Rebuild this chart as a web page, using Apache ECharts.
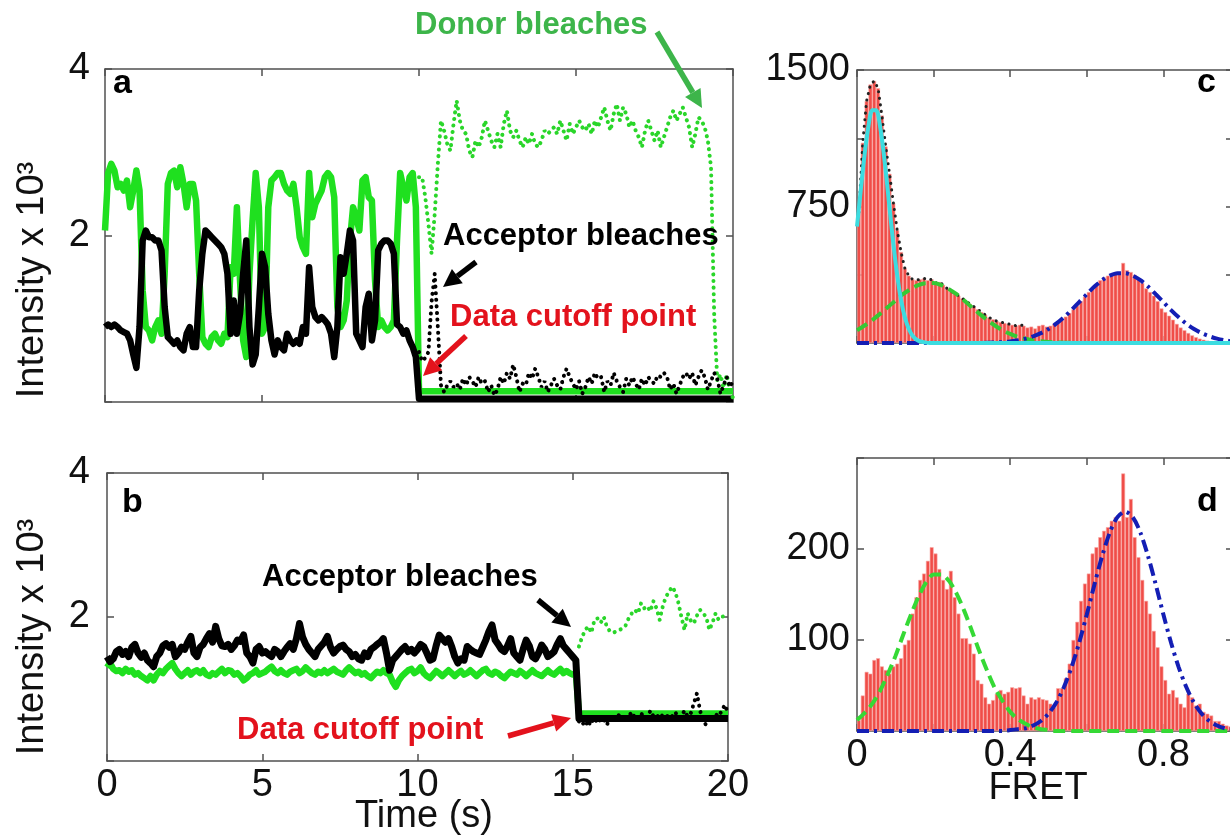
<!DOCTYPE html>
<html>
<head>
<meta charset="utf-8">
<script src="https://cdn.jsdelivr.net/npm/echarts@6/dist/echarts.min.js"></script>
<style>
  html, body { margin: 0; padding: 0; background: #fff; overflow: hidden; }
  #chart { width: 1260px; height: 838px; }
</style>
</head>
<body>
<div id="chart"></div>
<script>
const FONT = '"Liberation Sans", Arial, Helvetica, sans-serif';
const GREEN = '#1fe01f';
const BLACK = '#000000';
const T_STEP = 0.1;
const BIN_W = 0.01;
const FIT_STEP = 0.02;
const CYAN_STEP = 0.01;

// ---- panel a: time trace (intensity x 10^3), 0.1 s per point ----
const aStart = 0;
const aCutoff = 10;
const aDonor = [
  2.06, 2.75, 2.86, 2.78, 2.58, 2.62, 2.54, 2.66, 2.34, 2.54,
  2.78, 2.54, 1.34, 0.90, 0.86, 0.74, 0.90, 0.98, 0.82, 1.54,
  2.62, 2.75, 2.78, 2.58, 2.82, 2.62, 2.34, 2.62, 2.62, 2.42,
  1.54, 0.78, 0.70, 0.66, 0.78, 0.82, 0.74, 0.70, 0.82, 0.78,
  1.62, 1.54, 2.34, 1.46, 0.74, 0.54, 1.54, 2.18, 2.75, 2.34,
  0.82, 0.90, 2.34, 2.66, 2.70, 2.75, 2.75, 2.62, 2.54, 2.50,
  2.62, 2.34, 1.98, 1.86, 1.78, 2.75, 2.22, 2.38, 2.46, 2.54,
  2.70, 2.75, 2.70, 2.46, 1.14, 0.90, 0.98, 1.22, 1.94, 2.34,
  2.22, 2.06, 2.66, 2.70, 2.46, 2.42, 1.46, 0.90, 0.98, 0.90,
  0.86, 0.90, 0.98, 1.94, 2.75, 2.58, 2.42, 2.70, 2.75, 2.34
];
const aAcceptor = [
  0.90, 0.93, 0.90, 0.93, 0.90, 0.86, 0.84, 0.82, 0.74, 0.57,
  0.41, 0.90, 1.94, 2.06, 1.98, 1.98, 1.94, 1.94, 1.82, 1.14,
  0.78, 0.74, 0.70, 0.74, 0.66, 0.62, 0.82, 0.90, 0.66, 0.66,
  1.34, 1.78, 2.06, 2.02, 1.98, 1.94, 1.90, 1.86, 1.78, 1.54,
  0.82, 1.22, 0.82, 1.06, 1.54, 1.94, 0.90, 0.45, 0.57, 1.14,
  1.78, 1.62, 1.06, 0.74, 0.57, 0.74, 0.66, 0.62, 0.82, 0.74,
  0.70, 0.74, 0.70, 0.90, 0.82, 1.62, 1.14, 1.02, 0.98, 1.02,
  0.98, 0.93, 0.82, 0.54, 0.90, 1.74, 1.54, 1.78, 2.06, 1.94,
  0.82, 0.74, 0.66, 1.14, 1.30, 0.74, 0.98, 1.82, 1.90, 1.94,
  1.94, 1.90, 1.78, 0.93, 0.90, 0.82, 0.86, 0.74, 0.66, 0.54
];
const aDonorCut = 0.13;
const aAcceptorCut = 0.04;
// raw traces after the cutoff point (10 s .. 20 s)
const aDonorAfter = [
  2.70, 2.70, 2.46, 2.14, 1.78, 2.26, 2.86, 3.38, 3.26, 3.10,
  3.02, 3.34, 3.62, 3.38, 3.26, 3.22, 3.02, 2.94, 3.14, 3.06,
  3.18, 3.38, 3.26, 3.14, 3.06, 3.22, 3.06, 3.34, 3.50, 3.26,
  3.18, 3.26, 3.14, 3.06, 3.18, 3.10, 3.22, 3.10, 3.06, 3.14,
  3.26, 3.22, 3.26, 3.30, 3.22, 3.38, 3.26, 3.14, 3.34, 3.22,
  3.30, 3.38, 3.30, 3.26, 3.34, 3.22, 3.38, 3.30, 3.42, 3.54,
  3.38, 3.26, 3.46, 3.58, 3.38, 3.54, 3.46, 3.30, 3.38, 3.26,
  3.18, 3.06, 3.26, 3.38, 3.26, 3.14, 3.26, 3.06, 3.18, 3.30,
  3.42, 3.50, 3.38, 3.46, 3.54, 3.42, 3.30, 3.06, 3.22, 3.42,
  3.38, 3.30, 3.14, 2.82, 1.06, 0.25, 0.33, 0.17, 0.33, 0.13,
  0.05
];
const aAcceptorAfter = [
  0.60, 0.49, 0.53, 0.60, 1.20, 1.54, 0.90, 0.20, 0.12, 0.20,
  0.25, 0.18, 0.22, 0.15, 0.28, 0.20, 0.30, 0.25, 0.18, 0.30,
  0.22, 0.25, 0.12, 0.20, 0.08, 0.15, 0.30, 0.22, 0.35, 0.28,
  0.45, 0.30, 0.12, 0.22, 0.20, 0.35, 0.28, 0.40, 0.30, 0.18,
  0.25, 0.12, 0.20, 0.28, 0.20, 0.15, 0.30, 0.40, 0.30, 0.22,
  0.15, 0.25, 0.10, 0.18, 0.30, 0.22, 0.35, 0.28, 0.30, 0.12,
  0.25, 0.20, 0.35, 0.25, 0.18, 0.12, 0.28, 0.20, 0.30, 0.22,
  0.15, 0.28, 0.20, 0.30, 0.25, 0.22, 0.32, 0.30, 0.35, 0.30,
  0.15, 0.22, 0.10, 0.20, 0.30, 0.35, 0.28, 0.35, 0.20, 0.30,
  0.38, 0.30, 0.15, 0.25, 0.35, 0.28, 0.10, 0.20, 0.30, 0.18,
  0.25
];

// ---- panel b ----
const bStart = 0;
const bCutoff = 15.2;
const bDonor = [
  1.30, 1.36, 1.28, 1.25, 1.26, 1.22, 1.28, 1.24, 1.26, 1.20,
  1.22, 1.18, 1.15, 1.12, 1.18, 1.12, 1.20, 1.25, 1.22, 1.28,
  1.32, 1.36, 1.28, 1.22, 1.18, 1.22, 1.26, 1.20, 1.24, 1.26,
  1.22, 1.26, 1.20, 1.18, 1.22, 1.20, 1.24, 1.28, 1.22, 1.26,
  1.25, 1.20, 1.22, 1.18, 1.12, 1.15, 1.20, 1.22, 1.26, 1.20,
  1.22, 1.24, 1.28, 1.31, 1.25, 1.22, 1.26, 1.22, 1.20, 1.24,
  1.26, 1.28, 1.22, 1.25, 1.30, 1.26, 1.22, 1.20, 1.24, 1.22,
  1.26, 1.22, 1.25, 1.28, 1.24, 1.22, 1.20, 1.26, 1.30, 1.26,
  1.22, 1.24, 1.20, 1.22, 1.18, 1.15, 1.20, 1.24, 1.22, 1.26,
  1.22, 1.20, 1.10, 1.03, 1.12, 1.18, 1.22, 1.26, 1.28, 1.22,
  1.25, 1.30, 1.22, 1.18, 1.15, 1.20, 1.25, 1.22, 1.18, 1.22,
  1.26, 1.22, 1.18, 1.22, 1.25, 1.20, 1.22, 1.26, 1.22, 1.18,
  1.22, 1.26, 1.28, 1.22, 1.20, 1.24, 1.22, 1.18, 1.15, 1.20,
  1.24, 1.22, 1.20, 1.25, 1.22, 1.18, 1.22, 1.26, 1.22, 1.20,
  1.18, 1.22, 1.26, 1.22, 1.20, 1.24, 1.28, 1.22, 1.25, 1.22,
  1.20, 1.22
];
const bAcceptor = [
  1.45, 1.38, 1.42, 1.52, 1.55, 1.48, 1.52, 1.45, 1.58, 1.62,
  1.50, 1.44, 1.50, 1.40, 1.36, 1.31, 1.45, 1.50, 1.60, 1.63,
  1.58, 1.62, 1.45, 1.50, 1.58, 1.55, 1.65, 1.73, 1.50, 1.45,
  1.58, 1.62, 1.70, 1.77, 1.65, 1.87, 1.70, 1.60, 1.59, 1.62,
  1.55, 1.60, 1.68, 1.66, 1.75, 1.50, 1.45, 1.36, 1.55, 1.59,
  1.50, 1.52, 1.48, 1.45, 1.55, 1.52, 1.45, 1.52, 1.58, 1.63,
  1.55, 1.70, 1.91, 1.72, 1.62, 1.55, 1.50, 1.45, 1.55, 1.60,
  1.65, 1.73, 1.58, 1.50, 1.55, 1.59, 1.61, 1.55, 1.52, 1.45,
  1.48, 1.42, 1.40, 1.50, 1.45, 1.55, 1.58, 1.62, 1.65, 1.70,
  1.50, 1.26, 1.40, 1.45, 1.50, 1.55, 1.59, 1.52, 1.55, 1.50,
  1.55, 1.62, 1.59, 1.50, 1.40, 1.42, 1.60, 1.75, 1.70, 1.65,
  1.70, 1.59, 1.45, 1.36, 1.42, 1.40, 1.59, 1.55, 1.52, 1.50,
  1.48, 1.58, 1.68, 1.80, 1.89, 1.68, 1.62, 1.55, 1.52, 1.60,
  1.70, 1.50, 1.45, 1.40, 1.55, 1.68, 1.60, 1.45, 1.42, 1.50,
  1.61, 1.55, 1.45, 1.48, 1.52, 1.62, 1.70, 1.60, 1.55, 1.50,
  1.45, 1.40
];
const bDonorCut = 0.66;
const bAcceptorCut = 0.59;
const bDonorAfter = [
  1.59, 1.72, 1.82, 1.87, 1.78, 1.96, 1.98, 1.92, 2.00, 1.86,
  1.80, 1.78, 1.80, 1.82, 1.84, 1.88, 1.98, 2.05, 2.10, 2.05,
  2.19, 2.12, 2.15, 2.08, 2.22, 2.12, 1.96, 2.15, 2.28, 2.35,
  2.42, 2.35, 2.20, 2.00, 1.82, 2.05, 1.95, 1.91, 2.02, 2.10,
  2.05, 2.00, 1.82, 1.92, 2.05, 1.96, 2.00, 2.02, 2.00
];
const bAcceptorAfter = [
  0.55, 0.50, 0.56, 0.48, 0.58, 0.52, 0.60, 0.55, 0.58, 0.50,
  0.60, 0.62, 0.57, 0.65, 0.60, 0.55, 0.62, 0.68, 0.60, 0.58,
  0.66, 0.62, 0.60, 0.70, 0.62, 0.60, 0.66, 0.62, 0.60, 0.65,
  0.62, 0.68, 0.60, 0.62, 0.70, 0.62, 0.66, 0.80, 0.94, 0.70,
  0.55, 0.50, 0.62, 0.60, 0.65, 0.62, 0.70, 0.78, 0.66
];

// ---- panel c: FRET histogram (bins of 0.01) and fits ----
const cHist = [
  720, 1100, 1330, 1420, 1440, 1400, 1250, 1080, 930, 770,
  620, 500, 410, 370, 350, 345, 350, 355, 345, 350,
  330, 335, 320, 300, 285, 275, 260, 245, 230, 215,
  200, 185, 170, 155, 140, 130, 120, 115, 110, 105,
  100, 95, 100, 95, 85, 90, 80, 95, 100, 90,
  95, 105, 115, 130, 145, 165, 185, 205, 230, 255,
  280, 300, 325, 345, 360, 370, 380, 385, 390, 440,
  400, 390, 375, 355, 330, 300, 280, 260, 230, 190,
  170, 150, 128, 105, 85, 70, 55, 42, 32, 24,
  18, 13, 10, 7, 5, 4, 3, 2, 2, 1
];
const cCyanFit = [640, 844, 1039, 1193, 1279, 1279, 1193, 1039, 844, 640,
  453, 299, 184, 106, 57, 28, 13, 6, 2, 0, 0];
const cGreenFit = [70, 96, 126, 160, 196, 233, 268, 296, 318, 329,
  329, 318, 296, 268, 233, 196, 160, 126, 96, 70,
  50, 34, 23, 14, 9, 5, 3, 2, 1, 0,
  0, 0, 0, 0, 0, 0, 0, 0, 0, 0,
  0, 0, 0, 0, 0, 0, 0, 0, 0, 0, 0];
const cBlueFit = [0, 0, 0, 0, 0, 0, 0, 0, 0, 0,
  0, 0, 0, 0, 0, 0, 0, 1, 3, 5,
  9, 15, 24, 37, 54, 77, 106, 141, 181, 225,
  268, 310, 345, 370, 383, 383, 370, 345, 310, 268,
  225, 181, 141, 106, 77, 54, 37, 24, 15, 9, 5];

// ---- panel d ----
const dHist = [
  12, 39, 65, 63, 78, 80, 71, 67, 63, 71,
  74, 80, 95, 100, 129, 147, 166, 173, 187, 202,
  195, 178, 166, 156, 176, 147, 129, 102, 102, 96,
  85, 56, 52, 37, 30, 34, 41, 45, 41, 43,
  48, 47, 48, 39, 30, 37, 35, 37, 35, 34,
  30, 26, 47, 47, 58, 74, 100, 120, 143, 162,
  173, 195, 202, 213, 220, 224, 231, 235, 231, 283,
  235, 255, 213, 191, 166, 143, 129, 110, 92, 71,
  56, 41, 45, 37, 30, 26, 41, 37, 28, 30,
  21, 19, 17, 11, 11, 8, 6, 5, 4, 3
];
const dGreenFit = [12, 20, 30, 44, 62, 82, 105, 127, 147, 163,
  172, 172, 165, 151, 132, 110, 87, 66, 47, 33,
  21, 13, 8, 4, 2, 1, 0, 0, 0, 0,
  0, 0, 0, 0, 0, 0, 0, 0, 0, 0,
  0, 0, 0, 0, 0, 0, 0, 0, 0, 0, 0];
const dBlueFit = [0, 0, 0, 0, 0, 0, 0, 0, 0, 0,
  0, 0, 0, 0, 0, 0, 0, 0, 0, 0,
  1, 2, 3, 6, 11, 19, 31, 48, 70, 97,
  128, 161, 192, 218, 235, 241, 235, 218, 192, 161,
  128, 97, 70, 48, 31, 19, 11, 6, 3, 2, 1];

// ---------------------------------------------------------------
function timePairs(start, vals) {
  return vals.map((v, i) => [+(start + i * T_STEP).toFixed(2), v]);
}
function binPairs(vals) {
  return vals.map((v, i) => [+(BIN_W * (i + 0.5)).toFixed(3), v]);
}
function fitPairs(step, vals) {
  return vals.map((v, i) => [+(i * step).toFixed(3), v]);
}

const AX = '#505050';
const tickStyle = (len) => ({ show: true, inside: true, length: len, lineStyle: { color: AX, width: 1.5 } });
const lineAx = { show: true, onZero: false, lineStyle: { color: AX, width: 1.5 } };
const lbl = (fmt, margin) => fmt
  ? { show: true, formatter: fmt, fontFamily: FONT, fontSize: 38, color: '#111', margin: margin, showMinLabel: true, showMaxLabel: true }
  : { show: false };

function xPair(grid, min, max, interval, fmt, margin) {
  return [
    { type: 'value', gridIndex: grid, min, max, interval, position: 'bottom', axisLine: lineAx, axisTick: tickStyle(7), splitLine: { show: false }, axisLabel: lbl(fmt, margin) },
    { type: 'value', gridIndex: grid, min, max, interval, position: 'top', axisLine: lineAx, axisTick: tickStyle(7), splitLine: { show: false }, axisLabel: { show: false } }
  ];
}
function yPair(grid, min, max, interval, fmt, margin, rightTick) {
  return [
    { type: 'value', gridIndex: grid, min, max, interval, position: 'left', axisLine: lineAx, axisTick: tickStyle(7), splitLine: { show: false }, axisLabel: lbl(fmt, margin) },
    { type: 'value', gridIndex: grid, min, max, interval, position: 'right', axisLine: lineAx, axisTick: tickStyle(rightTick), splitLine: { show: false }, axisLabel: { show: false } }
  ];
}
const only = (list) => (v) => list.some(s => Math.abs(s - v) < 1e-6) ? String(v) : '';

// axis index 0/2/4/6 = bottom & left axes of grids a/b/c/d
function trace(xi, data, color, width, z) {
  return { type: 'line', xAxisIndex: xi, yAxisIndex: xi, data, showSymbol: false, silent: true,
    lineStyle: { color, width, join: 'round' }, z };
}
function dotted(xi, data, color, width, z) {
  return { type: 'line', xAxisIndex: xi, yAxisIndex: xi, data, showSymbol: false, silent: true,
    lineStyle: { color, width, type: [0.1, 6.5], cap: 'round' }, z };
}
function fit(xi, data, color, type, z) {
  return { type: 'line', xAxisIndex: xi, yAxisIndex: xi, data, showSymbol: false, silent: true, smooth: 0.3,
    lineStyle: { color, width: 4, type }, z };
}
function hist(xi, vals) {
  return { type: 'bar', xAxisIndex: xi, yAxisIndex: xi, data: binPairs(vals), barWidth: 3.83, silent: true,
    itemStyle: { color: '#f04d48', borderColor: '#f9a9a6', borderWidth: 0.6 }, z: 1 };
}

const series = [
  // a
  trace(0, timePairs(aStart, aDonor).concat([[aCutoff, aDonorCut], [20, aDonorCut]]), GREEN, 6.5, 2),
  trace(0, timePairs(aStart, aAcceptor).concat([[aCutoff, aAcceptorCut], [20, aAcceptorCut]]), BLACK, 6.5, 3),
  dotted(0, timePairs(aCutoff, aDonorAfter), '#2ad62a', 4, 4),
  dotted(0, timePairs(aCutoff, aAcceptorAfter), BLACK, 4, 4),
  // b
  trace(2, timePairs(bStart, bDonor).concat([[bCutoff, bDonorCut], [20, bDonorCut]]), GREEN, 6.5, 2),
  trace(2, timePairs(bStart, bAcceptor).concat([[bCutoff, bAcceptorCut], [20, bAcceptorCut]]), BLACK, 7, 3),
  dotted(2, timePairs(bCutoff, bDonorAfter), '#2ad62a', 4, 4),
  dotted(2, timePairs(bCutoff, bAcceptorAfter), BLACK, 4, 4),
  // c
  hist(4, cHist),
  dotted(4, binPairs(cHist.slice(0, 45)), '#222', 3, 2),
  fit(4, fitPairs(FIT_STEP, cGreenFit), '#35c935', [12, 6], 3),
  fit(4, fitPairs(FIT_STEP, cBlueFit), '#141eb4', [12, 5, 3, 5], 3),
  fit(4, fitPairs(CYAN_STEP, cCyanFit).concat([[1, 0]]), '#3cdce0', 'solid', 4),
  // d
  hist(6, dHist),
  fit(6, fitPairs(FIT_STEP, dGreenFit), '#35d935', [12, 6], 3),
  fit(6, fitPairs(FIT_STEP, dBlueFit), '#141eb4', [12, 5, 3, 5], 3)
];

function arrow(x1, y1, x2, y2, color) {
  const a = Math.atan2(y2 - y1, x2 - x1);
  const L = 18, W = 9;
  const bx = x2 - L * Math.cos(a), by = y2 - L * Math.sin(a);
  const px = -Math.sin(a) * W, py = Math.cos(a) * W;
  return [
    { type: 'line', z: 100, shape: { x1, y1, x2: bx, y2: by }, style: { stroke: color, lineWidth: 5.5 } },
    { type: 'polygon', z: 100, shape: { points: [[x2, y2], [bx + px, by + py], [bx - px, by - py]] }, style: { fill: color } }
  ];
}
function label(text, x, y, color, size, weight, align) {
  return { type: 'text', z: 100, x, y, style: { text, fill: color, font: `${weight} ${size}px ${FONT}`,
    textAlign: align || 'left', align: align || 'left', textVerticalAlign: 'middle', verticalAlign: 'middle' } };
}
function vlabel(text, x, y) {
  return { type: 'text', z: 100, x, y, rotation: Math.PI / 2, style: { text, fill: '#111', font: `normal 38px ${FONT}`,
    textAlign: 'center', align: 'center', textVerticalAlign: 'middle', verticalAlign: 'middle' } };
}

const RED = '#e3121c';
const DGREEN = '#3db54a';
const graphic = [
  label('Donor bleaches', 415, 25, DGREEN, 31, 'bold'),
  ...arrow(657, 32, 702, 108, DGREEN),
  label('Acceptor bleaches', 443, 236, BLACK, 31, 'bold'),
  ...arrow(476, 262, 443, 287, BLACK),
  label('Data cutoff point', 450, 317, RED, 31, 'bold'),
  ...arrow(466, 336, 423, 376, RED),
  label('Acceptor bleaches', 262, 577, BLACK, 31, 'bold'),
  ...arrow(538, 600, 571, 627, BLACK),
  label('Data cutoff point', 237, 730, RED, 31, 'bold'),
  ...arrow(508, 736, 571, 718, RED),
  label('a', 113, 84, BLACK, 34, 'bold'),
  label('b', 122, 503, BLACK, 34, 'bold'),
  label('c', 1197, 83, BLACK, 34, 'bold'),
  label('d', 1197, 502, BLACK, 34, 'bold'),
  vlabel('Intensity x 10³', 33, 280),
  vlabel('Intensity x 10³', 33, 637),
  label('Time (s)', 424, 817, '#111', 38, 'normal', 'center'),
  label('FRET', 1038, 789, '#111', 38, 'normal', 'center')
];

const chart = echarts.init(document.getElementById('chart'), null, { renderer: 'canvas' });
chart.setOption({
  animation: false,
  backgroundColor: '#ffffff',
  grid: [
    { left: 105, top: 69, width: 628, height: 333 },
    { left: 107, top: 473, width: 621, height: 288 },
    { left: 857, top: 70, width: 383, height: 273 },
    { left: 857, top: 458, width: 383, height: 273 }
  ],
  xAxis: [
    ...xPair(0, 0, 20, 5, null),
    ...xPair(1, 0, 20, 5, only([0, 5, 10, 15, 20]), 6),
    ...xPair(2, 0, 1, 0.2, null),
    ...xPair(3, 0, 1, 0.2, only([0, 0.4, 0.8]), 6)
  ],
  yAxis: [
    ...yPair(0, 0, 4, 2, only([2, 4]), 15, 7),
    ...yPair(1, 0, 4, 2, only([2, 4]), 17, 7),
    ...yPair(2, 0, 1500, 375, only([750, 1500]), 7, 14),
    ...yPair(3, 0, 300, 100, only([100, 200]), 7, 14)
  ],
  series,
  graphic
});
</script>
</body>
</html>
